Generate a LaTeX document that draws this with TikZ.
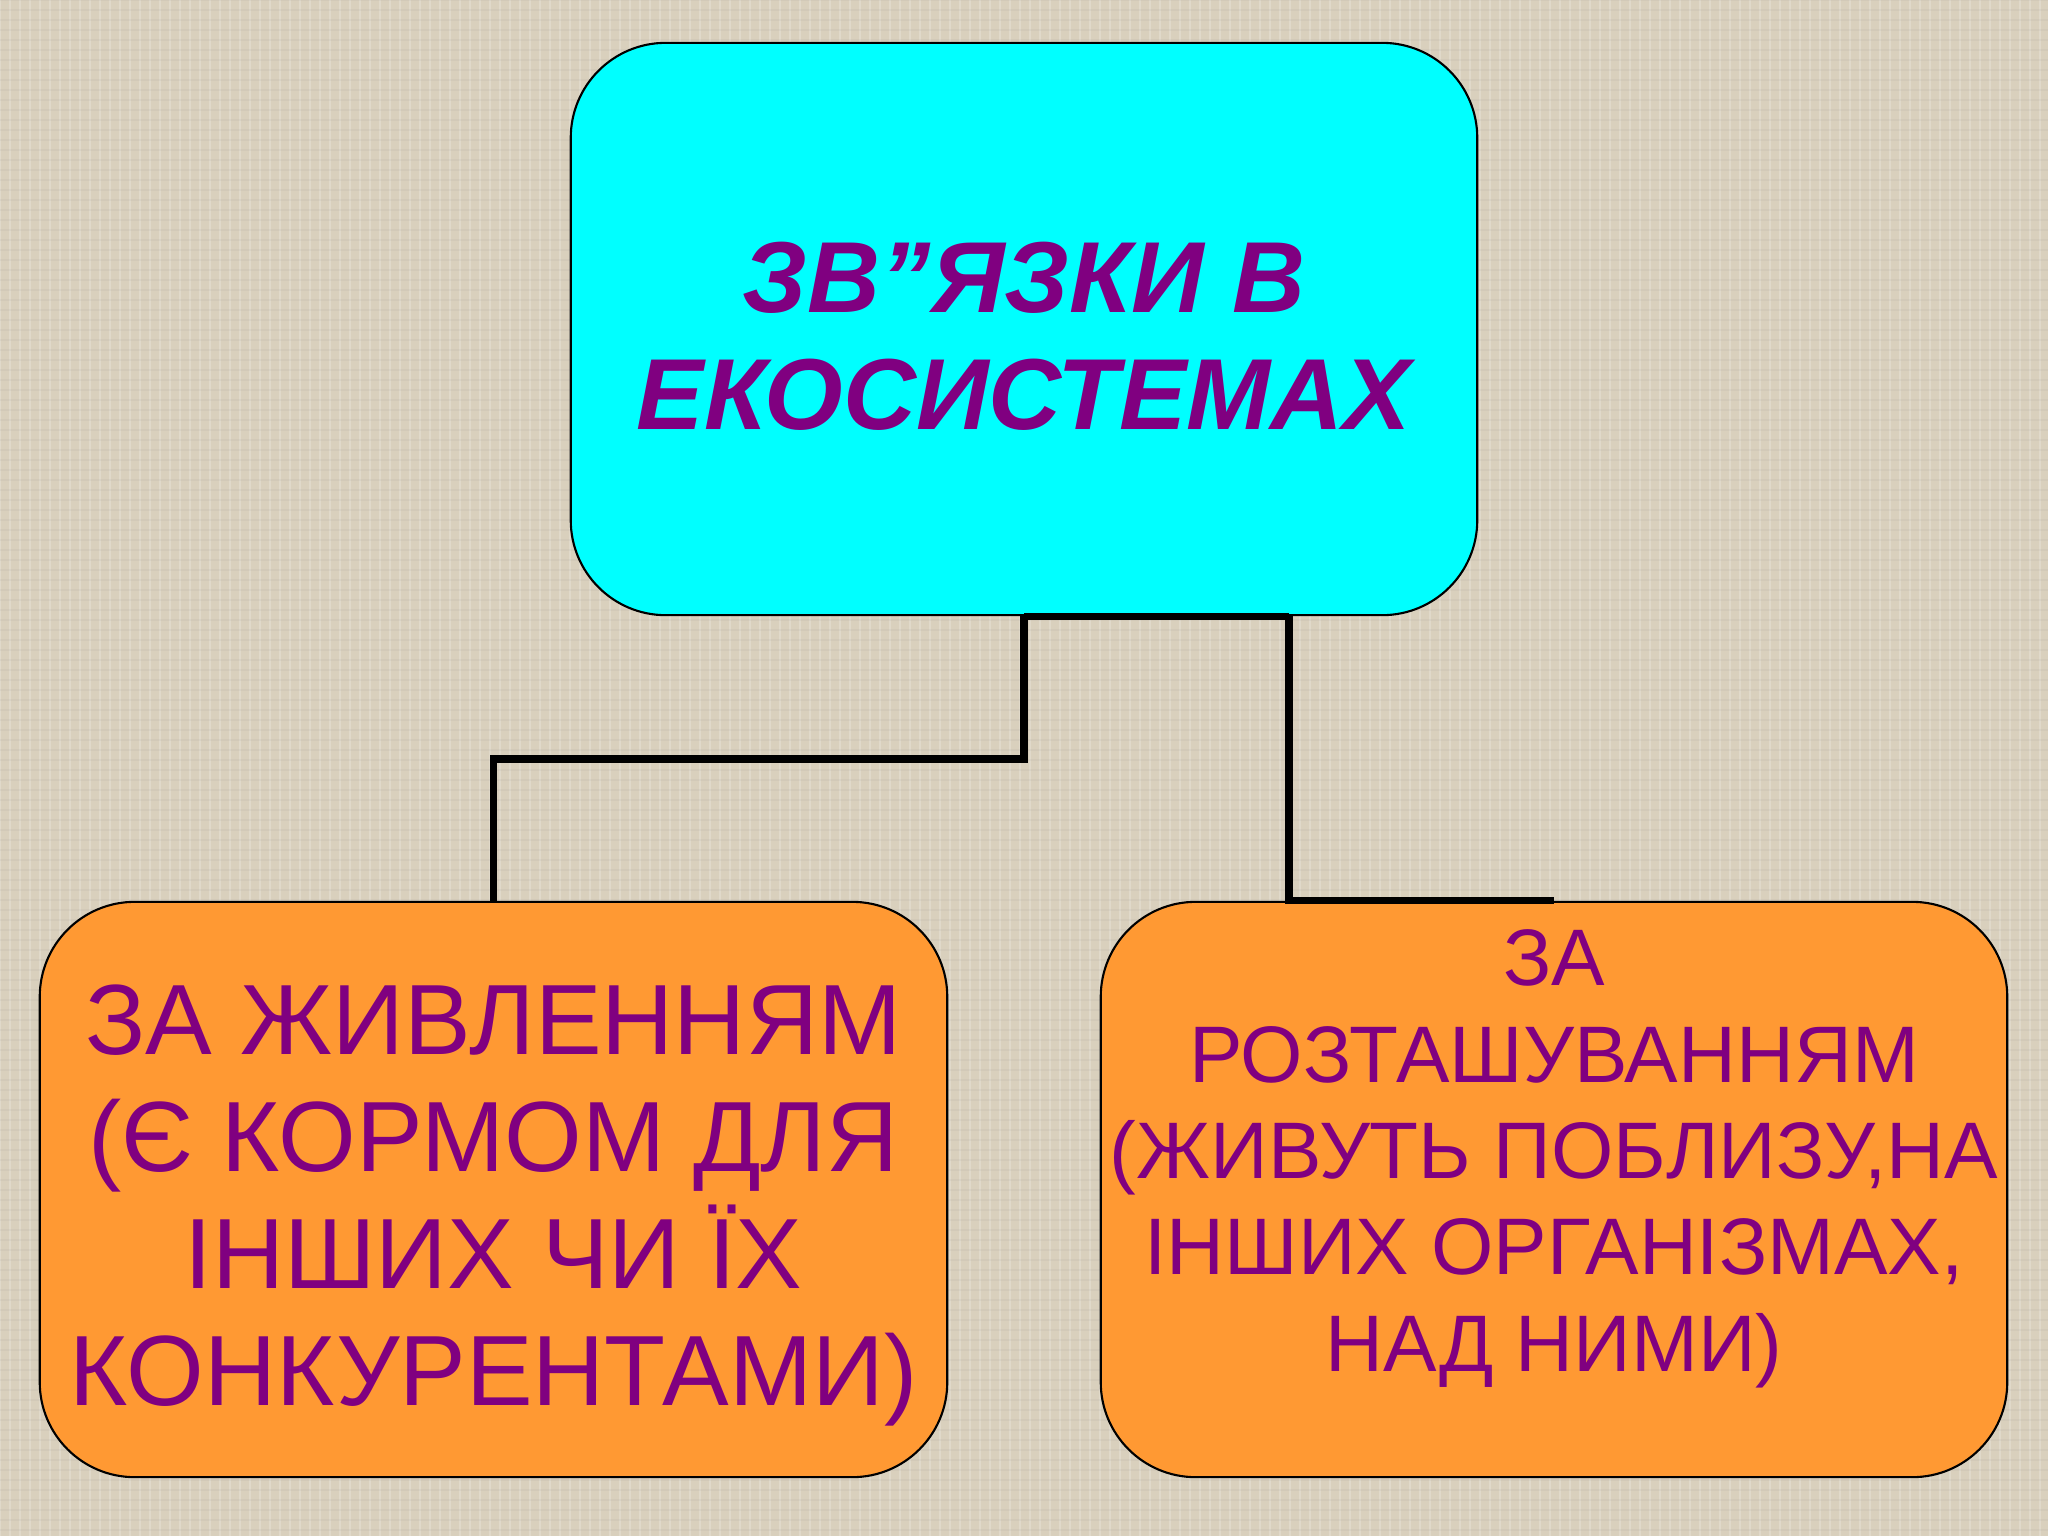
\documentclass[tikz,border=0pt]{standalone}
\usepackage{fontspec}
\setmainfont{Liberation Sans}
\definecolor{bgc}{HTML}{D9D0BD}
\definecolor{cyanfill}{HTML}{00FFFF}
\definecolor{orangefill}{HTML}{FF9933}
\definecolor{txtpurple}{HTML}{800080}
\begin{document}
\begin{tikzpicture}[x=0.01cm,y=-0.01cm,
  box/.style={draw=black,line width=0.6pt,rounded corners=0.95cm,inner sep=0pt},
  lbl/.style={text=txtpurple,align=center,inner sep=0pt,anchor=north},
  conn/.style={draw=black,line width=2pt}]
\useasboundingbox (0,0) rectangle (2048,1536);
\fill[bgc] (0,0) rectangle (2048,1536);
% subtle texture
\begin{scope}[line width=0.3pt]
\foreach \i in {0,10,...,2048}{\draw[white,opacity=0.2] (\i,0) -- (\i,1536);}
\foreach \j in {0,10,...,1536}{\draw[black!50,opacity=0.08] (0,\j) -- (2048,\j);}
\end{scope}
\node[box,fill=cyanfill,minimum width=9.06cm,minimum height=5.72cm] (t) at (1024,329) {};
\node[box,fill=orangefill,minimum width=9.07cm,minimum height=5.75cm] (l) at (493.5,1189.5) {};
\node[box,fill=orangefill,minimum width=9.06cm,minimum height=5.75cm] (r) at (1554,1189.5) {};
\node[lbl,font=\fontsize{28.7pt}{33.3pt}\selectfont\bfseries\itshape] (tt) at (1024,241)
  {ЗВ”ЯЗКИ В\\ЕКОСИСТЕМАХ};
\node[lbl,font=\fontsize{28.4pt}{33.3pt}\selectfont] (lt) at (493.5,984)
  {ЗА ЖИВЛЕННЯМ\\(Є КОРМОМ ДЛЯ\\ІНШИХ ЧИ ЇХ\\КОНКУРЕНТАМИ)};
\node[lbl,font=\fontsize{22.8pt}{27.4pt}\selectfont] (rt) at (1554,929)
  {ЗА\\РОЗТАШУВАННЯМ\\(ЖИВУТЬ ПОБЛИЗУ,НА\\ІНШИХ ОРГАНІЗМАХ,\\НАД НИМИ)};
\coordinate (c1) at (1024,759);
\coordinate (c2) at (1289,759);
\draw[conn] (t.south -| c1) -- (c1) -| (l.north);
\draw[conn] (t.south -| c2) -- (r.north -| c2) -- (r.north);
\draw[conn] (t.south -| c1) -- (t.south -| c2);
\end{tikzpicture}
\end{document}
